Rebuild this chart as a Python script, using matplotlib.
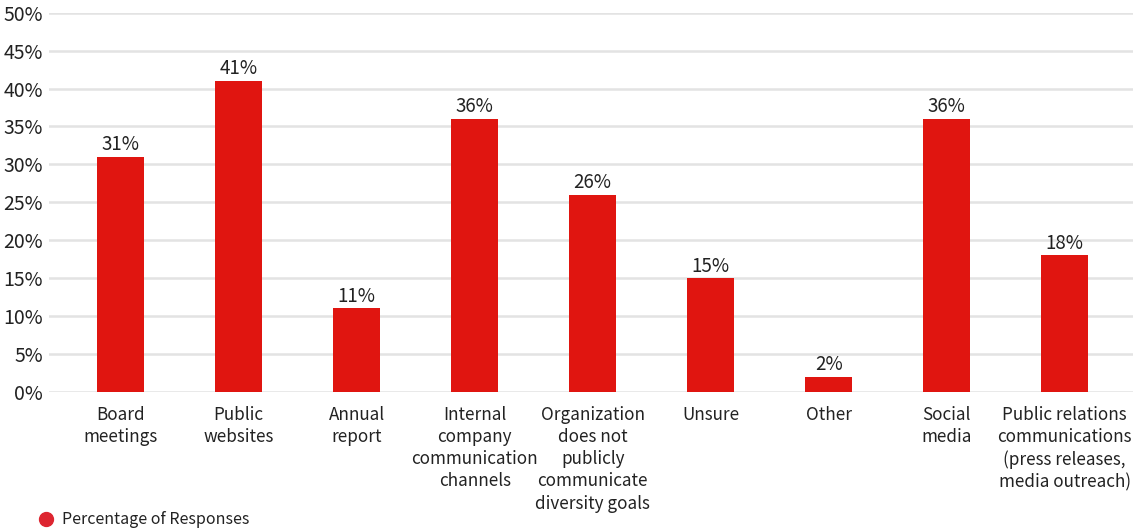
import matplotlib.pyplot as plt
from matplotlib.lines import Line2D

plt.rcParams['font.family'] = ['Noto Sans CJK SC', 'DejaVu Sans']

categories = [
    "Board\nmeetings",
    "Public\nwebsites",
    "Annual\nreport",
    "Internal\ncompany\ncommunication\nchannels",
    "Organization\ndoes not\npublicly\ncommunicate\ndiversity goals",
    "Unsure",
    "Other",
    "Social\nmedia",
    "Public relations\ncommunications\n(press releases,\nmedia outreach)",
]
responses = [31, 41, 11, 36, 26, 15, 2, 36, 18]
yticks = [0, 5, 10, 15, 20, 25, 30, 35, 40, 45, 50]

bar_color = "#e01510"
text_color = "#222222"

W, H = 1133, 531
fig = plt.figure(figsize=(W / 100, H / 100), dpi=100)
ax = fig.add_axes([0.043, 0.262, 0.957, 0.714])

x = list(range(len(categories)))
bars = ax.bar(x, responses, width=0.4, color=bar_color, zorder=3)

for b, v in zip(bars, responses):
    ax.text(b.get_x() + b.get_width() / 2, v + 0.2, f"{v}%",
            ha="center", va="bottom", fontsize=13.5, color=text_color)

ax.set_ylim(0, 50)
ax.set_xlim(-0.61, 8.58)
ax.set_yticks(yticks)
ax.set_yticklabels([f"{t}%" for t in yticks], fontsize=14, color=text_color)
ax.set_xticks(x)
ax.set_xticklabels(categories, fontsize=12.3, color=text_color, linespacing=1.3)
ax.tick_params(axis="both", length=0)
ax.tick_params(axis="x", pad=10)
ax.tick_params(axis="y", pad=4)

ax.grid(axis="y", color="#e3e3e3", linewidth=1.8, zorder=0)
for s in ax.spines.values():
    s.set_visible(False)

# legend entry at the bottom left
fig.add_artist(Line2D([46 / W], [1 - 519 / H], marker="o", markersize=10,
                      color="#dd2530", linestyle="none"))
fig.text(62 / W, 1 - 519 / H, "Percentage of Responses", fontsize=11.5,
         color=text_color, va="center", ha="left")

fig.savefig("out.png", dpi=100)
